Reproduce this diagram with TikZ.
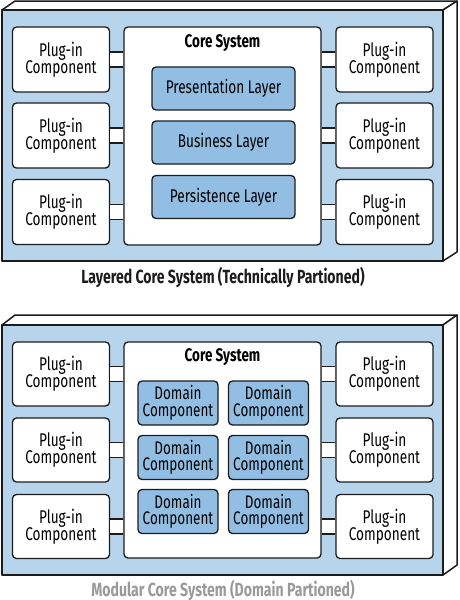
\documentclass[tikz,border=0pt]{standalone}
\usepackage{fontspec}
\IfFontExistsTF{FiraSans-Medium.otf}{%
  \setmainfont{FiraSans-Medium.otf}[FakeStretch=0.74,BoldFont=FiraSans-SemiBold.otf]%
}{%
  \setmainfont{Fira Sans}[FakeStretch=0.74]%
}
\usetikzlibrary{calc}
\definecolor{frontblue}{HTML}{B6D4EC}
\definecolor{innerblue}{HTML}{91BEE2}
\definecolor{edge}{HTML}{1C1C1C}
\definecolor{capgray}{HTML}{9A9A9A}
\tikzset{
  x=1pt,y=-1pt,
  frame/.style={draw=edge,line width=1.5pt,line join=round},
  plugbox/.style={draw=edge,line width=1.3pt,fill=white,rounded corners=4pt,
    minimum width=97pt,minimum height=65pt,align=center,inner sep=0pt,
    font=\fontsize{18.4}{17}\selectfont},
  corebox/.style={draw=edge,line width=1.3pt,fill=white,rounded corners=4pt,
    minimum width=197pt,inner sep=0pt},
  layerbox/.style={draw=edge,line width=1.3pt,fill=innerblue,rounded corners=4pt,
    minimum width=143pt,minimum height=43pt,inner sep=0pt,
    font=\fontsize{18.4}{17}\selectfont},
  dombox/.style={draw=edge,line width=1.3pt,fill=innerblue,rounded corners=4pt,
    minimum width=80pt,minimum height=44pt,align=center,inner sep=0pt,
    font=\fontsize{18.2}{16.5}\selectfont},
  conn/.style={draw=edge,line width=1.2pt},
  title/.style={font=\fontsize{18.2}{17}\selectfont\bfseries,inner sep=0pt},
  caption/.style={font=\fontsize{19}{17}\selectfont\bfseries,inner sep=0pt}
}
\newcommand{\plugtext}{Plug-in\\Component}
\begin{document}
\begin{tikzpicture}
\useasboundingbox (0,0) rectangle (459,600);
\fill[white] (0,0) rectangle (459,600);
% ---------- panel 1 ----------
\filldraw[frame,fill=white] (2,10) -- (15,1) -- (457,1) -- (443,10) -- cycle;
\filldraw[frame,fill=white] (443,10) -- (457,1) -- (457,252) -- (443,261) -- cycle;
\filldraw[frame,fill=frontblue] (2,10) rectangle (443,261);
\node[corebox,minimum height=218pt] (core1) at (222.5,136) {};
\node[title] (core1t) at (222.5,43) {Core System};
\node[layerbox] (lay1) at (223.5,88.5) {Presentation Layer};
\node[layerbox] (lay2) at (223.5,142.5) {Business Layer};
\node[layerbox] (lay3) at (223.5,197) {Persistence Layer};
\node[plugbox] (pa1) at (61,59.5) {\plugtext};
\node[plugbox] (pa2) at (61,135.5) {\plugtext};
\node[plugbox] (pa3) at (61,212) {\plugtext};
\node[plugbox] (pb1) at (384.5,59.5) {\plugtext};
\node[plugbox] (pb2) at (384.5,135.5) {\plugtext};
\node[plugbox] (pb3) at (384.5,212) {\plugtext};
\foreach \p in {pa1,pa2,pa3}{
  \fill[white] ($(\p.east)+(0,-7.5)$) rectangle ($(\p.east -| core1.west)+(0,7.5)$);
  \draw[conn] ($(\p.east)+(0,-7.5)$) -- ($(\p.east -| core1.west)+(0,-7.5)$);
  \draw[conn] ($(\p.east)+(0,7.5)$) -- ($(\p.east -| core1.west)+(0,7.5)$);
}
\foreach \p in {pb1,pb2,pb3}{
  \fill[white] ($(\p.west)+(0,-7.5)$) rectangle ($(\p.west -| core1.east)+(0,7.5)$);
  \draw[conn] ($(\p.west)+(0,-7.5)$) -- ($(\p.west -| core1.east)+(0,-7.5)$);
  \draw[conn] ($(\p.west)+(0,7.5)$) -- ($(\p.west -| core1.east)+(0,7.5)$);
}
\node[caption,text=edge] (cap1) at (223,277) {Layered Core System (Technically Partioned)};
% ---------- panel 2 ----------
\filldraw[frame,fill=white] (2,325) -- (15,315) -- (457,315) -- (443,325) -- cycle;
\filldraw[frame,fill=white] (443,325) -- (457,315) -- (457,565) -- (443,575) -- cycle;
\filldraw[frame,fill=frontblue] (2,325) rectangle (443,575);
\node[corebox,minimum height=216pt] (core2) at (222.5,450) {};
\node[title] (core2t) at (222.5,357) {Core System};
\node[dombox] (d11) at (178,403) {Domain\\Component};
\node[dombox] (d12) at (268.5,403) {Domain\\Component};
\node[dombox] (d21) at (178,457.5) {Domain\\Component};
\node[dombox] (d22) at (268.5,457.5) {Domain\\Component};
\node[dombox] (d31) at (178,511.5) {Domain\\Component};
\node[dombox] (d32) at (268.5,511.5) {Domain\\Component};
\node[plugbox,minimum height=64pt] (qa1) at (61,374) {\plugtext};
\node[plugbox,minimum height=64pt] (qa2) at (61,450) {\plugtext};
\node[plugbox,minimum height=64pt] (qa3) at (61,526.5) {\plugtext};
\node[plugbox,minimum height=64pt] (qb1) at (384.5,374) {\plugtext};
\node[plugbox,minimum height=64pt] (qb2) at (384.5,450) {\plugtext};
\node[plugbox,minimum height=64pt] (qb3) at (384.5,526.5) {\plugtext};
\foreach \p in {qa1,qa2,qa3}{
  \fill[white] ($(\p.east)+(0,-7.5)$) rectangle ($(\p.east -| core2.west)+(0,7.5)$);
  \draw[conn] ($(\p.east)+(0,-7.5)$) -- ($(\p.east -| core2.west)+(0,-7.5)$);
  \draw[conn] ($(\p.east)+(0,7.5)$) -- ($(\p.east -| core2.west)+(0,7.5)$);
}
\foreach \p in {qb1,qb2,qb3}{
  \fill[white] ($(\p.west)+(0,-7.5)$) rectangle ($(\p.west -| core2.east)+(0,7.5)$);
  \draw[conn] ($(\p.west)+(0,-7.5)$) -- ($(\p.west -| core2.east)+(0,-7.5)$);
  \draw[conn] ($(\p.west)+(0,7.5)$) -- ($(\p.west -| core2.east)+(0,7.5)$);
}
\node[caption,text=capgray] (cap2) at (223,590) {Modular Core System (Domain Partioned)};
\end{tikzpicture}
\end{document}
